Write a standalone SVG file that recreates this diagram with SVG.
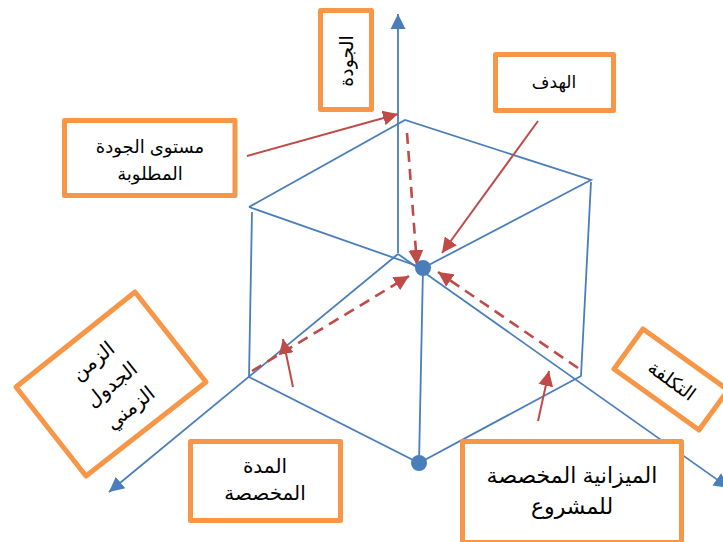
<svg xmlns="http://www.w3.org/2000/svg" width="723" height="542" viewBox="0 0 723 542">
<style>
.box{fill:#fff;stroke:#f79646;stroke-width:5;stroke-linejoin:round}
.blue{fill:none;stroke:#4a7ebb;stroke-width:1.8}
.red{fill:none;stroke:#be4b48;stroke-width:2}
.dash{stroke-width:2.6;stroke-dasharray:11 7}
text{font-family:"Liberation Sans","DejaVu Sans",sans-serif;fill:#000;text-anchor:middle;direction:rtl}
</style>
<defs>
<marker id="ab" markerUnits="userSpaceOnUse" markerWidth="16" markerHeight="16" refX="15" refY="8" orient="auto"><path d="M0 0.5L15 8L0 15.5z" fill="#4a7ebb"/></marker>
<marker id="ar" markerUnits="userSpaceOnUse" markerWidth="16" markerHeight="16" refX="15" refY="8" orient="auto"><path d="M0 0.5L15 8L0 15.5z" fill="#be4b48"/></marker>
</defs>
<rect width="723" height="542" fill="#fff"/>
<g id="connectors">
<path class="blue" d="M398 253V14" marker-end="url(#ab)"/>
<path class="blue" d="M398 254L109 492" marker-end="url(#ab)"/>
<path class="blue" d="M398 254L729 488" marker-end="url(#ab)"/>
<path class="blue" d="M249 207L405 120L591 180L423 268L249 207"/>
<path class="blue" d="M252 212L249 377L419 463L581 376L591 182"/>
<path class="blue" d="M423 268L419 463"/>
<path class="red" d="M247 156L398 114" marker-end="url(#ar)"/>
<path class="red" d="M538 121L442 253" marker-end="url(#ar)"/>
<path class="red" d="M293 387L283 339" marker-end="url(#ar)"/>
<path class="red" d="M538 421L549 371" marker-end="url(#ar)"/>
<path class="red dash" d="M407 133L417 265" marker-end="url(#ar)"/>
<path class="red dash" d="M252 371L409 276" marker-end="url(#ar)"/>
<path class="red dash" d="M578 368L438 272" marker-end="url(#ar)"/>
</g>
<g id="dots"><circle cx="423" cy="268" r="8" fill="#4a7ebb"/><circle cx="419" cy="463" r="8" fill="#4a7ebb"/></g>
<g id="n-quality"><rect class="box" x="320.5" y="10.5" width="51" height="99"/><text font-size="19" transform="translate(353 61) rotate(-90)">الجودة</text></g>
<g id="n-goal"><rect class="box" x="495.5" y="54.5" width="118" height="56"/><text font-size="17" x="554" y="88">الهدف</text></g>
<g id="n-level"><rect class="box" x="64.5" y="120.5" width="170.5" height="75"/><text font-size="18" x="150" y="153">مستوى الجودة</text><text font-size="18" x="150" y="180">المطلوبة</text></g>
<g id="n-time"><path class="box" d="M135 292L206 382L86 476L16 387z"/><g transform="translate(112 385) rotate(-38.5)" font-size="20"><text y="-24">الزمن</text><text y="6">الجدول</text><text y="36">الزمني</text></g></g>
<g id="n-duration"><rect class="box" x="190.5" y="441.5" width="150" height="79"/><text font-size="20" x="265" y="473">المدة</text><text font-size="20" x="265" y="500">المخصصة</text></g>
<g id="n-cost"><path class="box" d="M643 329L728 390L699 430L614 369z"/><text font-size="19" transform="translate(668 386) rotate(36)">التكلفة</text></g>
<g id="n-budget"><rect class="box" x="462.5" y="441.5" width="219" height="101"/><text font-size="22" x="572" y="483">الميزانية المخصصة</text><text font-size="22" x="572" y="514">للمشروع</text></g>
</svg>
